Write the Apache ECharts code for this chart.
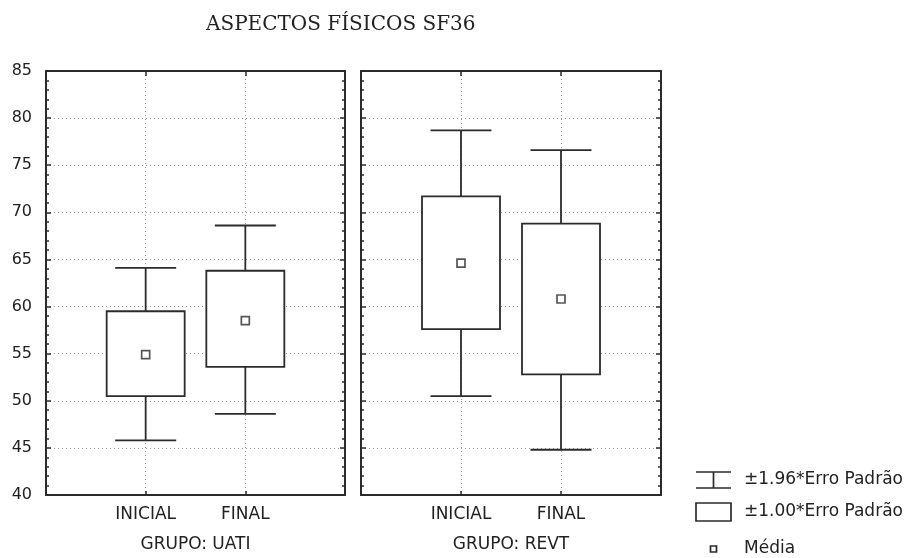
<!DOCTYPE html>
<html>
<head>
<meta charset="utf-8">
<script src="https://cdn.jsdelivr.net/npm/echarts@6/dist/echarts.min.js"></script>
<style>
  html, body { margin: 0; padding: 0; background: #fff; }
  #chart { width: 921px; height: 558px; }
</style>
</head>
<body>
<div id="chart"></div>
<script>
// Moments (INICIAL / FINAL) and the two groups
const moments = ['INICIAL', 'FINAL'];
const groups = ['GRUPO: UATI', 'GRUPO: REVT'];

// Mean per group, one value per moment
const meanUATI = [54.9, 58.5];
const meanREVT = [64.6, 60.8];

// ±1.00 * standard error (box)
const boxLowUATI = [50.5, 53.6];
const boxHighUATI = [59.5, 63.8];
const boxLowREVT = [57.6, 52.8];
const boxHighREVT = [71.7, 68.8];

// ±1.96 * standard error (whiskers)
const whiskLowUATI = [45.8, 48.6];
const whiskHighUATI = [64.1, 68.6];
const whiskLowREVT = [50.5, 44.8];
const whiskHighREVT = [78.7, 76.6];

// Y axis range and tick step
const yMin = 40, yMax = 85, yStep = 5;

const titleText = 'ASPECTOS FÍSICOS SF36';
const legendWhisker = '±1.96*Erro Padrão';
const legendBox = '±1.00*Erro Padrão';
const legendMean = 'Média';

// Category slots: an empty slot at each edge puts the two moments at 1/3 and 2/3
const slots = [''].concat(moments).concat(['']);

const INK = '#2b2b2b';
const LABEL_FONT = 'DejaVu Sans';

function rows(low, high) {
  return moments.map((m, i) => [i + 1, low[i], high[i]]);
}
function meanRows(mean) {
  return moments.map((m, i) => [i + 1, mean[i]]);
}

const panels = [
  { mean: meanUATI, bl: boxLowUATI, bh: boxHighUATI, wl: whiskLowUATI, wh: whiskHighUATI },
  { mean: meanREVT, bl: boxLowREVT, bh: boxHighREVT, wl: whiskLowREVT, wh: whiskHighREVT }
];

const grids = [
  { left: 46, top: 71, width: 299, height: 428 },
  { left: 361, top: 71, width: 300, height: 428 }
];

const xAxes = [];
const yAxes = [];
grids.forEach((g, gi) => {
  // bottom axis with moment labels and group name
  xAxes.push({
    type: 'category', gridIndex: gi, data: slots, boundaryGap: false, position: 'bottom',
    axisLine: { show: true, lineStyle: { color: INK, width: 2 } },
    axisTick: { show: true, inside: true, length: 4, lineStyle: { color: INK, width: 1.5 } },
    axisLabel: { show: true, margin: 11, color: '#222', fontFamily: LABEL_FONT, fontSize: 17 },
    splitLine: { show: true, lineStyle: { color: '#9a9a9a', type: [1, 3], width: 1 } },
    name: groups[gi], nameLocation: 'middle', nameGap: 41,
    nameTextStyle: { color: '#222', fontFamily: LABEL_FONT, fontSize: 17 }
  });
  // top frame edge with inward ticks
  xAxes.push({
    type: 'category', gridIndex: gi, data: slots, boundaryGap: false, position: 'top',
    axisLine: { show: true, lineStyle: { color: INK, width: 2 } },
    axisTick: { show: true, inside: true, length: 5, lineStyle: { color: INK, width: 1.5 } },
    axisLabel: { show: false }, splitLine: { show: false }
  });
  const yCommon = {
    type: 'value', gridIndex: gi, min: yMin, max: yMax, interval: yStep,
    axisLine: { show: true, lineStyle: { color: INK, width: 2 } },
    axisTick: { show: true, inside: true, length: 5, lineStyle: { color: INK, width: 1.5 } },
    minorTick: { show: true, splitNumber: 5, length: 3, lineStyle: { color: INK, width: 1.5 } }
  };
  yAxes.push(Object.assign({}, yCommon, {
    position: 'left',
    axisLabel: { show: gi === 0, margin: 14, color: '#222', fontFamily: LABEL_FONT, fontSize: 16 },
    splitLine: { show: true, lineStyle: { color: '#9a9a9a', type: [1, 3], width: 1 } }
  }));
  yAxes.push(Object.assign({}, yCommon, {
    position: 'right',
    axisLabel: { show: false }, splitLine: { show: false }
  }));
});

const series = [];
panels.forEach((p, gi) => {
  const xi = gi * 2, yi = gi * 2;
  // whiskers: ±1.96 * SE
  series.push({
    type: 'custom', name: legendWhisker, xAxisIndex: xi, yAxisIndex: yi, z: 3,
    data: rows(p.wl, p.wh),
    renderItem: function (params, api) {
      const lo = api.coord([api.value(0), api.value(1)]);
      const hi = api.coord([api.value(0), api.value(2)]);
      const half = 30.5;
      const style = { stroke: INK, lineWidth: 1.8, fill: null };
      return {
        type: 'group',
        children: [
          { type: 'line', shape: { x1: lo[0], y1: lo[1], x2: hi[0], y2: hi[1] }, style },
          { type: 'line', shape: { x1: lo[0] - half, y1: lo[1], x2: lo[0] + half, y2: lo[1] }, style },
          { type: 'line', shape: { x1: hi[0] - half, y1: hi[1], x2: hi[0] + half, y2: hi[1] }, style }
        ]
      };
    }
  });
  // boxes: ±1.00 * SE
  series.push({
    type: 'custom', name: legendBox, xAxisIndex: xi, yAxisIndex: yi, z: 4,
    data: rows(p.bl, p.bh),
    renderItem: function (params, api) {
      const lo = api.coord([api.value(0), api.value(1)]);
      const hi = api.coord([api.value(0), api.value(2)]);
      const w = 78;
      return {
        type: 'rect',
        shape: { x: lo[0] - w / 2, y: hi[1], width: w, height: lo[1] - hi[1] },
        style: { fill: '#fff', stroke: INK, lineWidth: 1.8 }
      };
    }
  });
  // mean markers
  series.push({
    type: 'scatter', name: legendMean, xAxisIndex: xi, yAxisIndex: yi, z: 5,
    data: meanRows(p.mean),
    symbol: 'rect', symbolSize: 8,
    itemStyle: { color: '#fff', borderColor: INK, borderWidth: 1.7 },
    silent: true
  });
});

const legendStyle = { stroke: INK, lineWidth: 1.7, fill: null };
const legendText = { fill: '#222', fontFamily: LABEL_FONT, fontSize: 17, verticalAlign: 'middle' };

const option = {
  backgroundColor: '#fff',
  animation: false,
  grid: grids,
  xAxis: xAxes,
  yAxis: yAxes,
  series: series,
  graphic: [
    { type: 'text', left: 206, top: 15,
      style: { text: titleText, fill: '#222', fontFamily: 'DejaVu Serif', fontSize: 20 } },
    // legend: whisker icon
    { type: 'line', shape: { x1: 696, y1: 472, x2: 731, y2: 472 }, style: legendStyle },
    { type: 'line', shape: { x1: 713.5, y1: 472, x2: 713.5, y2: 488 }, style: legendStyle },
    { type: 'line', shape: { x1: 696, y1: 488, x2: 731, y2: 488 }, style: legendStyle },
    { type: 'text', x: 744, y: 480, style: Object.assign({ text: legendWhisker }, legendText) },
    // legend: box icon
    { type: 'rect', shape: { x: 696, y: 503, width: 35, height: 18 }, style: legendStyle },
    { type: 'text', x: 744, y: 512, style: Object.assign({ text: legendBox }, legendText) },
    // legend: mean icon
    { type: 'rect', shape: { x: 710.5, y: 546, width: 6, height: 6 }, style: legendStyle },
    { type: 'text', x: 744, y: 549, style: Object.assign({ text: legendMean }, legendText) }
  ]
};

const chart = echarts.init(document.getElementById('chart'), null, { renderer: 'canvas' });
chart.setOption(option);
</script>
</body>
</html>
